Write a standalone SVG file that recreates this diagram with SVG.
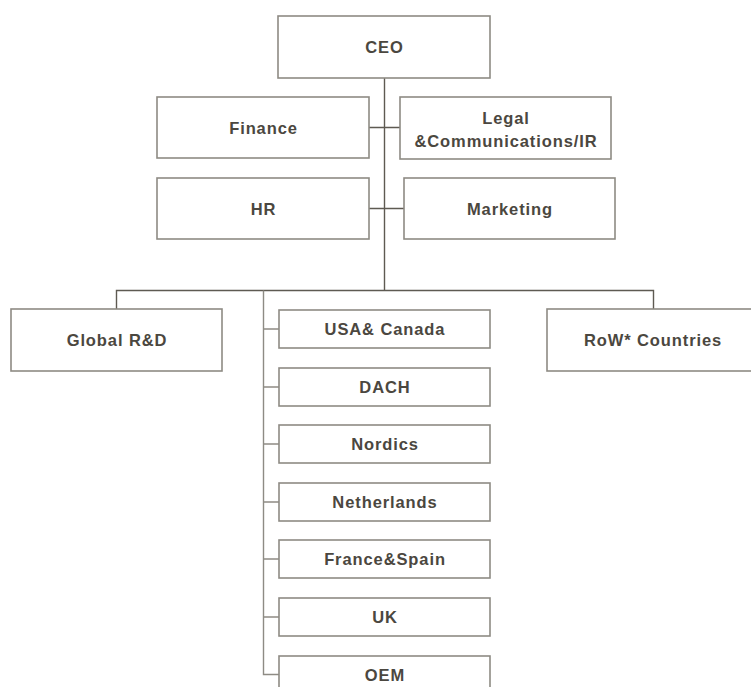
<svg xmlns="http://www.w3.org/2000/svg" width="751" height="687" viewBox="0 0 751 687">
<style>
.box{fill:#fff;stroke:#8e8b84;stroke-width:1.6}
.t{font-family:"Liberation Sans",Arial,sans-serif;font-weight:bold;font-size:16.5px;letter-spacing:0.9px;fill:#4b4740;text-anchor:middle}
.ln{fill:none;stroke:#5e5a52;stroke-width:1.4}
.ln2{fill:none;stroke:#8e8b84;stroke-width:1.4}
</style>
<rect width="751" height="687" fill="#fff"/>
<g id="connectors">
<path class="ln" d="M384.5 78V290.5M369 127.5H400M369 208.5H404"/>
<path class="ln" d="M116.5 309V290.5H653.5V309"/>
<path class="ln2" d="M263.5 290.5V674.5H279M263.5 329H279M263.5 387H279M263.5 444H279M263.5 502H279M263.5 559H279M263.5 617H279"/>
</g>
<g id="ceo"><rect class="box" x="278" y="16" width="212" height="62"/><text class="t" x="384.5" y="53">CEO</text></g>
<g id="finance"><rect class="box" x="157" y="97" width="212" height="61"/><text class="t" x="263.5" y="133.5">Finance</text></g>
<g id="legal"><rect class="box" x="400" y="97" width="211" height="62"/><text class="t" x="506" y="124">Legal</text><text class="t" x="506" y="146.5">&amp;Communications/IR</text></g>
<g id="hr"><rect class="box" x="157" y="178" width="212" height="61"/><text class="t" x="263.5" y="214.5">HR</text></g>
<g id="marketing"><rect class="box" x="404" y="178" width="211" height="61"/><text class="t" x="510" y="214.5">Marketing</text></g>
<g id="global-rd"><rect class="box" x="11" y="309" width="211" height="62"/><text class="t" x="117" y="346">Global R&amp;D</text></g>
<g id="row"><rect class="box" x="547" y="309" width="211" height="62"/><text class="t" x="653" y="346">RoW* Countries</text></g>
<g id="usa"><rect class="box" x="279" y="310" width="211" height="38"/><text class="t" x="385" y="335">USA&amp; Canada</text></g>
<g id="dach"><rect class="box" x="279" y="368" width="211" height="38"/><text class="t" x="385" y="393">DACH</text></g>
<g id="nordics"><rect class="box" x="279" y="425" width="211" height="38"/><text class="t" x="385" y="450">Nordics</text></g>
<g id="netherlands"><rect class="box" x="279" y="483" width="211" height="38"/><text class="t" x="385" y="508">Netherlands</text></g>
<g id="france-spain"><rect class="box" x="279" y="540" width="211" height="38"/><text class="t" x="385" y="565">France&amp;Spain</text></g>
<g id="uk"><rect class="box" x="279" y="598" width="211" height="38"/><text class="t" x="385" y="623">UK</text></g>
<g id="oem"><rect class="box" x="279" y="656" width="211" height="38"/><text class="t" x="385" y="681">OEM</text></g>
</svg>
